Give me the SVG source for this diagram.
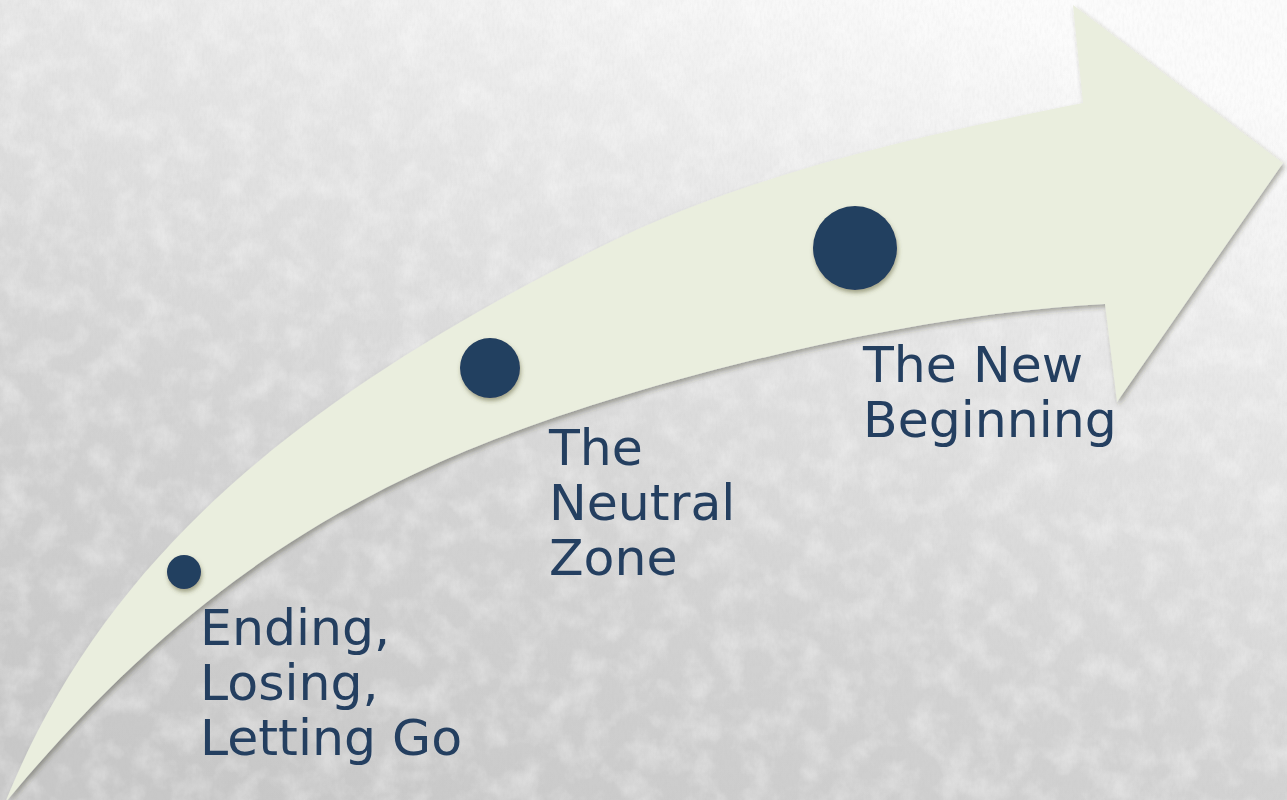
<svg xmlns="http://www.w3.org/2000/svg" width="1287" height="800" viewBox="0 0 1287 800">
  <defs>
    <linearGradient id="bg" x1="0.75" y1="0" x2="0.2" y2="1">
      <stop offset="0" stop-color="#fbfbfb"/>
      <stop offset="0.3" stop-color="#e6e6e6"/>
      <stop offset="0.65" stop-color="#d3d3d3"/>
      <stop offset="1" stop-color="#c8c8c8"/>
    </linearGradient>
    <filter id="mottle" x="0" y="0" width="100%" height="100%">
      <feTurbulence type="fractalNoise" baseFrequency="0.035" numOctaves="4" seed="3" result="t"/>
      <feColorMatrix in="t" type="matrix" values="0 0 0 0 1  0 0 0 0 1  0 0 0 0 1  0 0 0 2.2 -0.9"/>
    </filter>
    <filter id="grain" x="0" y="0" width="100%" height="100%">
      <feTurbulence type="fractalNoise" baseFrequency="0.4 0.15" numOctaves="2" seed="7" result="t"/>
      <feColorMatrix in="t" type="matrix" values="0 0 0 0 0.5  0 0 0 0 0.5  0 0 0 0 0.5  0 0 0 -1.2 0.75"/>
    </filter>
    <filter id="shadow" x="-10%" y="-10%" width="130%" height="130%">
      <feDropShadow dx="2" dy="3" stdDeviation="2.5" flood-color="#3a3a20" flood-opacity="0.4"/>
    </filter>
    <filter id="cshadow" x="-30%" y="-30%" width="160%" height="160%">
      <feDropShadow dx="1" dy="3" stdDeviation="2" flood-color="#5a5a30" flood-opacity="0.5"/>
    </filter>
  </defs>
  <style>
    .dot { fill: #243F60; filter: url(#cshadow); }
    .lbl { font-family: "DejaVu Sans", Verdana, sans-serif; font-size: 50.5px; fill: #243F60; }
  </style>

  <rect x="0" y="0" width="1287" height="800" fill="url(#bg)"/>
  <rect x="0" y="0" width="1287" height="800" fill="#ffffff" filter="url(#mottle)" opacity="0.35"/>
  <rect x="0" y="0" width="1287" height="800" fill="#ffffff" filter="url(#grain)" opacity="0.15"/>

  <g id="connectors">
    <path id="arrow" filter="url(#shadow)" fill="#EAEEDE"
      d="M 5,803
         C 105,555 300,397 600,247
         C 750,172 933,133 1083,103
         L 1073,5
         L 1283,163
         L 1117,402
         L 1105,304
         C 885,315 590,394.5 440,462
         C 290,529.5 155,622 5,803 Z"/>
  </g>

  <g id="node-ending">
    <circle class="dot" cx="184" cy="572" r="17"/>
    <text class="lbl" x="200" y="645">Ending,</text>
    <text class="lbl" x="200" y="700">Losing,</text>
    <text class="lbl" x="200" y="755">Letting Go</text>
  </g>

  <g id="node-neutral">
    <circle class="dot" cx="490" cy="368" r="30"/>
    <text class="lbl" x="549" y="465">The</text>
    <text class="lbl" x="549" y="520">Neutral</text>
    <text class="lbl" x="549" y="575">Zone</text>
  </g>

  <g id="node-new">
    <circle class="dot" cx="855" cy="248" r="42"/>
    <text class="lbl" x="863" y="382">The New</text>
    <text class="lbl" x="863" y="437">Beginning</text>
  </g>
</svg>
